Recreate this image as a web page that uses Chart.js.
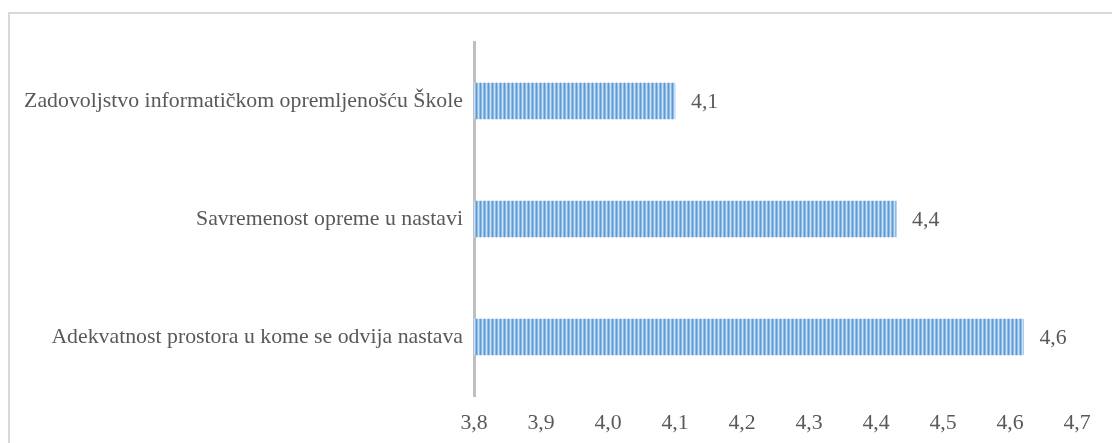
<!DOCTYPE html>
<html>
<head>
<meta charset="utf-8">
<script src="https://cdn.jsdelivr.net/npm/chart.js@4/dist/chart.umd.min.js"></script>
<style>
  html, body { margin: 0; padding: 0; background: #fff; overflow: hidden; }
  #frame {
    position: absolute; left: 8px; top: 12px; width: 1200px; height: 500px;
    border-left: 2px solid #d9d9d9; border-top: 2px solid #d9d9d9;
  }
  #wrap { position: absolute; left: 0; top: 0; width: 1112px; height: 443px; }
</style>
</head>
<body>
<div id="frame"></div>
<div id="wrap"><canvas id="chart"></canvas></div>
<script>
// ==========================================
// DATA
// ==========================================
const categories = [
    'Zadovoljstvo informatičkom opremljenošću Škole',
    'Savremenost opreme u nastavi',
    'Adekvatnost prostora u kome se odvija nastava'
];
const scores = [4.10, 4.43, 4.62];
const axisMin = 3.8;
const axisMax = 4.7;
const axisStep = 0.1;

const FONT = '"Liberation Serif", "Times New Roman", serif';
const FONT_SIZE = 21.8;
const TEXT_COLOR = '#595959';

// format s decimalnim zarezom
function fmt(v) {
    return Number(v).toFixed(1).replace('.', ',');
}

// prugasti uzorak za stubove
function makeStripePattern() {
    const c = document.createElement('canvas');
    c.width = 4; c.height = 4;
    const g = c.getContext('2d');
    const cols = ['#5b9bd5', '#8fbbe6', '#cfe2f4', '#8fbbe6'];
    cols.forEach((col, i) => { g.fillStyle = col; g.fillRect(i, 0, 1, 4); });
    return g.createPattern(c, 'repeat');
}

// vrijednosti desno od stubova
const valueLabels = {
    id: 'valueLabels',
    afterDatasetsDraw(chart) {
        const ctx = chart.ctx;
        const meta = chart.getDatasetMeta(0);
        ctx.save();
        ctx.font = FONT_SIZE + 'px ' + FONT;
        ctx.fillStyle = TEXT_COLOR;
        ctx.textAlign = 'left';
        ctx.textBaseline = 'middle';
        meta.data.forEach((bar, i) => {
            ctx.fillText(fmt(scores[i]), bar.x + 16, bar.y + 1);
        });
        ctx.restore();
    }
};

document.addEventListener('DOMContentLoaded', () => {
    const ctx = document.getElementById('chart');
    new Chart(ctx, {
        type: 'bar',
        data: {
            labels: categories,
            datasets: [{
                data: scores,
                backgroundColor: makeStripePattern(),
                borderWidth: 0,
                barThickness: 36
            }]
        },
        options: {
            indexAxis: 'y',
            responsive: true,
            maintainAspectRatio: false,
            animation: false,
            layout: { padding: { top: 42, right: 35, left: 0, bottom: 0 } },
            plugins: { legend: { display: false }, tooltip: { enabled: false } },
            scales: {
                x: {
                    min: axisMin,
                    max: axisMax,
                    grid: { display: false },
                    border: { display: false },
                    afterFit: s => { s.height = 47; },
                    ticks: {
                        stepSize: axisStep,
                        padding: 6,
                        color: TEXT_COLOR,
                        font: { family: FONT, size: FONT_SIZE },
                        callback: v => fmt(v)
                    }
                },
                y: {
                    grid: { display: false },
                    border: { display: true, color: '#bfbfbf', width: 3 },
                    afterFit: s => { s.width = 474; },
                    ticks: {
                        padding: 3,
                        color: TEXT_COLOR,
                        font: { family: FONT, size: FONT_SIZE }
                    }
                }
            }
        },
        plugins: [valueLabels]
    });
});
</script>
</body>
</html>
